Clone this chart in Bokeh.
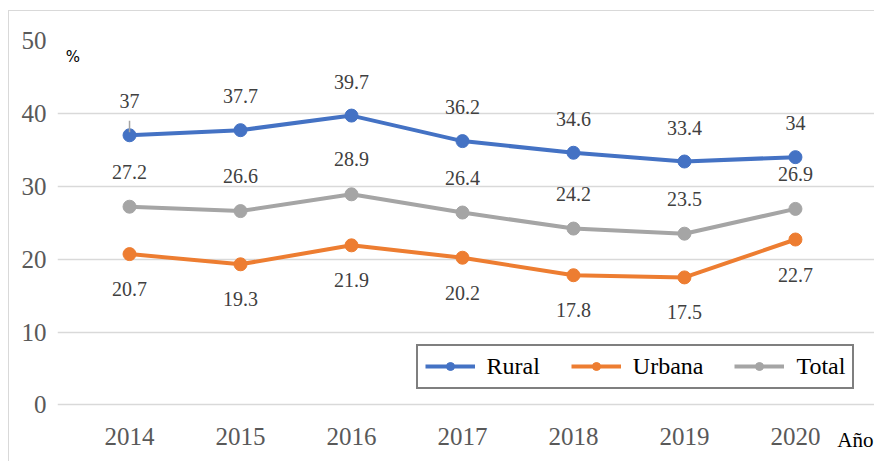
from bokeh.plotting import figure
from bokeh.models import Range1d, FixedTicker, Label, ColumnDataSource, Legend, LegendItem
from bokeh.core.properties import value
from bokeh.embed import file_html
from bokeh.resources import INLINE

years = [2014, 2015, 2016, 2017, 2018, 2019, 2020]
rural = [37, 37.7, 39.7, 36.2, 34.6, 33.4, 34]
urbana = [20.7, 19.3, 21.9, 20.2, 17.8, 17.5, 22.7]
total = [27.2, 26.6, 28.9, 26.4, 24.2, 23.5, 26.9]
y_ticks = [0, 10, 20, 30, 40, 50]

SERIF = "Liberation Serif"

p = figure(width=866, height=451, output_backend="svg", toolbar_location=None,
           x_range=Range1d(2013.351, 2020.7213), y_range=Range1d(-7.89, 50),
           min_border_left=48, min_border_right=0, min_border_top=29, min_border_bottom=0)
p.margin = (10, 0, 0, 8)
p.styles = {"border-top": "1.5px solid #d9d9d9", "border-left": "1.5px solid #d9d9d9"}
p.outline_line_color = None
p.background_fill_color = "white"
p.border_fill_color = "white"

p.xgrid.visible = False
p.ygrid.grid_line_color = "#d9d9d9"
p.ygrid.grid_line_width = 1.3
p.ygrid.ticker = FixedTicker(ticks=y_ticks)
p.ygrid.bounds = (2013.5, 2020.5)

for ax in (p.xaxis[0], p.yaxis[0]):
    ax.axis_line_color = None
    ax.major_tick_line_color = None
    ax.minor_tick_line_color = None
    ax.major_label_text_font = SERIF
    ax.major_label_text_font_size = "25px"
    ax.major_label_text_color = "#595959"
p.xaxis.ticker = FixedTicker(ticks=years)
p.yaxis.ticker = FixedTicker(ticks=y_ticks)
p.xaxis.fixed_location = 0
p.xaxis.major_label_standoff = 17
p.yaxis.major_label_standoff = 5

series = [("Rural", rural, "#4472C4", -34), ("Urbana", urbana, "#ED7D31", 35), ("Total", total, "#A5A5A5", -35)]
items = []
for name, vals, color, off in series:
    src = ColumnDataSource(dict(x=years, y=vals, t=[("%g" % v) for v in vals]))
    r1 = p.line("x", "y", source=src, line_color=color, line_width=4)
    r2 = p.scatter("x", "y", source=src, size=13, fill_color=color, line_color=color)
    p.text("x", "y", text="t", source=src, y_offset=off, text_align="center",
           text_baseline="middle", text_font=value(SERIF), text_font_size="20px",
           text_color="#404040")
    items.append(LegendItem(label=name, renderers=[r1, r2]))

# leader line for the first rural label
p.segment(x0=[years[0]], y0=[rural[0] + 0.4], x1=[years[0]], y1=[rural[0] + 2.0],
          line_color="#A5A5A5", line_width=1.5)

legend = Legend(items=items, orientation="horizontal", location=(358.5, 73.5),
                border_line_color="black", border_line_width=2,
                label_text_font=SERIF, label_text_font_size="24px", label_text_color="black",
                glyph_width=50, glyph_height=20, label_standoff=12, spacing=31,
                padding=7, margin=0, background_fill_alpha=1)
legend.label_height = 21
p.add_layout(legend, "center")

p.add_layout(Label(x=2013.49, y=47.7, text="%", text_align="center", text_baseline="middle",
                   text_font="DejaVu Sans", text_font_size="15px", text_color="black"))
p.add_layout(Label(x=2020.54, y=-4.8, text="Año", text_align="center", text_baseline="middle",
                   text_font=SERIF, text_font_size="21px", text_color="black"))

open("out.html", "w").write(file_html(p, INLINE))
